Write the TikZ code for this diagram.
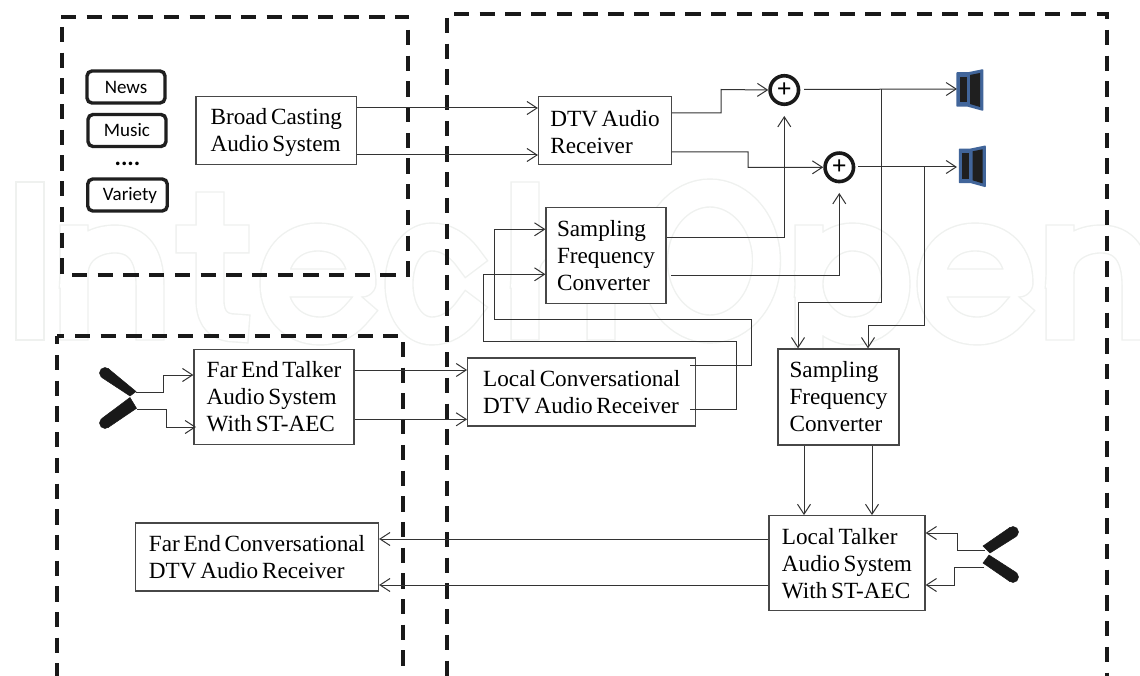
\documentclass[tikz,border=0pt]{standalone}
\usepackage{fontspec}
\setmainfont[WordSpace=0.65]{Liberation Serif}
\newfontfamily\labfont{Carlito}
\usetikzlibrary{arrows.meta}
\definecolor{spkblue}{HTML}{41659A}
\definecolor{wm}{HTML}{EFF1EF}
\tikzset{
 x=1pt,y=-1pt,
 sysbox/.style={draw=black!72,line width=1.2pt,fill=white,inner sep=0pt,align=left,font=\fontsize{23.2}{27}\selectfont},
 srcbox/.style={draw=black!88,line width=3.4pt,rounded corners=5pt,inner sep=0pt,font=\labfont\fontsize{19}{20}\selectfont},
 zone/.style={draw=black!90,line width=4pt,dash pattern=on 15.3pt off 10.4pt},
 link/.style={draw=black!80,line width=1pt,-{Straight Barb[length=10pt,width=13pt,line width=1pt]}},
 sumnode/.style={circle,draw=black!90,line width=3.6pt,minimum size=28.5pt,inner sep=0pt,fill=white,font=\bfseries\fontsize{26}{26}\selectfont},
 speaker/.style={draw=spkblue,fill=spkblue,line width=1.5pt,line join=round},
 spkcone/.style={fill=black!88},
 micbody/.style={fill=black!90,draw=black!90,line width=.5pt},
 wmark/.style={draw=wm,line width=1.4pt,double=white,double distance=26.5pt,line cap=rect,line join=round}
}
\begin{document}
\begin{tikzpicture}
\useasboundingbox (0,0) rectangle (1140,676);
\fill[white] (0,0) rectangle (1140,676);
% faint background lettering
\draw[wmark] (30,196) -- (30,326);
\draw[wmark] (74,239) -- (74,326) (74,275) .. controls (74,250) and (95,239) .. (115,239) .. controls (138,239) and (150,255) .. (150,285) -- (150,326);
\draw[wmark] (210,206) -- (210,300) .. controls (210,320) and (220,328) .. (235,328) (190,239) -- (235,239);
\draw[wmark] (275,283) -- (362,283) .. controls (362,255) and (345,237) .. (318,237) .. controls (290,237) and (274,258) .. (274,284) .. controls (274,310) and (292,331) .. (320,331) .. controls (338,331) and (350,322) .. (358,312);
\draw[wmark] (468,258) .. controls (458,244) and (445,237) .. (432,237) .. controls (412,237) and (399,258) .. (399,284) .. controls (399,310) and (412,331) .. (432,331) .. controls (445,331) and (458,324) .. (468,310);
\draw[wmark] (525,196) -- (525,326) (525,275) .. controls (525,250) and (546,239) .. (566,239) .. controls (589,239) and (601,255) .. (601,285) -- (601,326);
\draw[wmark] (710,261) ellipse [x radius=56.5,y radius=68];
\draw[wmark] (809,239) -- (809,400) (809,284) .. controls (809,258) and (830,237) .. (852,237) .. controls (880,237) and (896,258) .. (896,284) .. controls (896,310) and (880,331) .. (852,331) .. controls (830,331) and (809,310) .. (809,284);
\draw[wmark] (932,283) -- (1019,283) .. controls (1019,255) and (1002,237) .. (975,237) .. controls (947,237) and (931,258) .. (931,284) .. controls (931,310) and (949,331) .. (977,331) .. controls (995,331) and (1007,322) .. (1015,312);
\draw[wmark] (1060,239) -- (1060,326) (1060,275) .. controls (1060,250) and (1081,239) .. (1101,239) .. controls (1124,239) and (1136,255) .. (1136,285) -- (1136,326);
% zones
\draw[zone] (61,17) -- (409,17);
\draw[zone] (62,27) -- (62,275);
\draw[zone] (408,30) -- (408,277);
\draw[zone] (72,275) -- (405,275);
\draw[zone] (454,14) -- (1109,14);
\draw[zone] (447,18) -- (447,676);
\draw[zone] (1107,14) -- (1107,19);
\draw[zone] (1107,30) -- (1107,676);
\draw[zone] (75,336) -- (398,336);
\draw[zone] (57,336) -- (64,336);
\draw[zone] (57,336) -- (57,344);
\draw[zone] (57,355) -- (57,676);
\draw[zone] (403,342) -- (403,676);
% source boxes
\node[srcbox,minimum width=78pt,minimum height=32pt] (news) at (126,87) {News\hspace{14pt}};
\node[srcbox,minimum width=78pt,minimum height=32pt] (music) at (127,130.5) {Music\hspace{5pt}};
\node[srcbox,minimum width=79.5pt,minimum height=32pt] (variety) at (127.5,195) {\hspace{5pt}Variety};
\node[font=\labfont\bfseries\fontsize{24}{24}\selectfont] (dots) at (127.5,164) {....};
% boxes
\node[sysbox,minimum width=160.7pt,minimum height=68pt] (bcast) at (276.3,130.7) {\rule{0pt}{20pt}Broad Casting\\Audio System};
\node[sysbox,minimum width=133pt,minimum height=68pt] (dtv) at (605,130.5) {\rule{0pt}{19pt}DTV Audio\\Receiver};
\node[sysbox,minimum width=120pt,minimum height=96pt] (sfc1) at (606,255.7) {Sampling\\Frequency\\Converter};
\node[sysbox,minimum width=228pt,minimum height=68pt] (lcr) at (581.7,392) {Local Conversational\\DTV Audio Receiver};
\node[sysbox,minimum width=160pt,minimum height=95pt] (far) at (274,396.7) {Far End Talker\\Audio System\\With ST-AEC};
\node[sysbox,minimum width=121pt,minimum height=96pt] (sfc2) at (838.5,397) {Sampling\\Frequency\\Converter};
\node[sysbox,minimum width=156pt,minimum height=95pt] (loc) at (847,563.2) {Local Talker\\Audio System\\With ST-AEC};
\node[sysbox,minimum width=243pt,minimum height=68pt] (fcr) at (257,557) {Far End Conversational\\DTV Audio Receiver};
% sums
\node[sumnode] (s1) at (784.3,90) {+};
\node[sumnode] (s2) at (839.3,167.3) {+};
% speakers
\draw[speaker] (957,73) -- (968,73) -- (982.5,70) -- (982.5,110) -- (968,106) -- (957,106) -- cycle;
\fill[spkcone] (959.5,77) rectangle (966.5,102.5);
\fill[spkcone] (970,75) -- (980,73) -- (980,107) -- (970,104) -- cycle;
\begin{scope}[shift={(2.5,76.3)}]
\draw[speaker] (957,73) -- (968,73) -- (982.5,70) -- (982.5,110) -- (968,106) -- (957,106) -- cycle;
\fill[spkcone] (959.5,77) rectangle (966.5,102.5);
\fill[spkcone] (970,75) -- (980,73) -- (980,107) -- (970,104) -- cycle;
\end{scope}
\coordinate (spk1) at (957,89);
\coordinate (spk2) at (957,167);
% mic ends
\coordinate (m1) at (136,392); \coordinate (m2) at (137,409);
\coordinate (m3) at (985,550); \coordinate (m4) at (984,567);
% links top
\draw[link] (bcast.east |- 0,108) -- (dtv.west |- 0,108);
\draw[link] (bcast.east |- 0,155) -- (dtv.west |- 0,155);
\draw[link] (dtv.east |- 0,113) -- (721,113) -- (721,89.5) -- (s1.west);
\draw[link] (dtv.east |- 0,152) -- (748,152) -- (748,167.5) -- (s2.west);
\draw[link] (804,89.5) -- (spk1);
\draw[link] (858,167) -- (spk2);
\draw[link] (sfc1.east |- 0,237.7) -- (784.3,237.7) -- (s1.south |- 0,116);
\draw[link] (671,276) -- (839.3,276) -- (s2.south |- 0,193);
\draw[link] (881,89.5) -- (881,302) -- (798,302) -- (sfc2.north -| 798,0);
\draw[link] (924.5,167) -- (924.5,325.7) -- (868,325.7) -- (sfc2.north -| 868,0);
% local to sfc1
\draw[link] (690,365) -- (751.7,365) -- (751.7,319.3) -- (494.3,319.3) -- (494.3,229.3) -- (sfc1.west |- 0,229.3);
\draw[link] (690,409.5) -- (736.7,409.5) -- (736.7,341) -- (483.7,341) -- (483.7,274.3) -- (sfc1.west |- 0,274.3);
% far
\draw[link] (far.east |- 0,370) -- (lcr.west |- 0,370);
\draw[link] (far.east |- 0,419.3) -- (lcr.west |- 0,419.3);
\draw[link] (m1) -- (163,392) -- (163,375) -- (far.west |- 0,375);
\draw[link] (m2) -- (166,409) -- (166,427) -- (196,427);
% sfc2 to loc
\draw[link] (sfc2.south -| 804,0) -- (loc.north -| 804,0);
\draw[link] (sfc2.south -| 872,0) -- (loc.north -| 872,0);
% loc to far
\draw[link] (loc.west |- 0,539) -- (fcr.east |- 0,539);
\draw[link] (loc.west |- 0,585) -- (fcr.east |- 0,585);
\draw[link] (m3) -- (957,550) -- (957,533) -- (loc.east |- 0,533);
\draw[link] (m4) -- (954,567) -- (954,585) -- (loc.east |- 0,585);
% mics
\fill[micbody] (105,373) circle (5.5);
\fill[micbody] (102,377.6) -- (108,368.4) -- (136,391.5) -- (130,396) -- cycle;
\fill[micbody] (105,423) circle (5.5);
\fill[micbody] (102,418.4) -- (108,427.6) -- (136.5,408.3) -- (130,397.5) -- cycle;
\fill[micbody] (1013,532) circle (5.5);
\fill[micbody] (1016,536.6) -- (1010,527.4) -- (983,546) -- (990,553) -- cycle;
\fill[micbody] (1013,577) circle (5.5);
\fill[micbody] (1016,572.4) -- (1010,581.6) -- (983,563) -- (989,555) -- cycle;
\end{tikzpicture}
\end{document}
